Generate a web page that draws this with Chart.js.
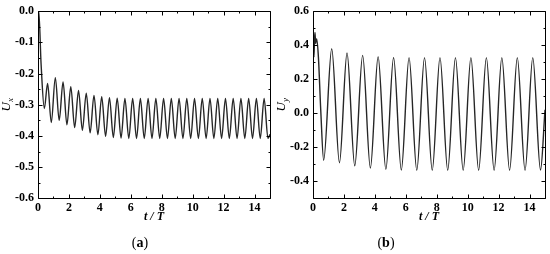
<!DOCTYPE html>
<html>
<head>
<meta charset="utf-8">
<script src="https://cdn.jsdelivr.net/npm/chart.js@4.4.1/dist/chart.umd.min.js"></script>
<style>
  html, body { margin: 0; padding: 0; background: #fff; }
  #wrap { position: relative; width: 550px; height: 254px; }
  .box { position: absolute; top: 0; width: 275px; height: 254px; }
</style>
</head>
<body>
<div id="wrap">
  <div class="box" style="left:0"><canvas id="chartA"></canvas></div>
  <div class="box" style="left:275px"><canvas id="chartB"></canvas></div>
</div>
<script>
// (a) U_x against t/T, extrema
const uxTime = [0, 0.05, 0.2, 0.41, 0.62, 0.86, 1.12, 1.37, 1.62, 1.87, 2.12, 2.37, 2.62, 2.87, 3.12, 3.37,
  3.62, 3.87, 4.12, 4.37, 4.62, 4.87, 5.12, 5.37, 5.62, 5.87, 6.12, 6.37, 6.62, 6.87, 7.12, 7.37, 7.62, 7.87,
  8.12, 8.37, 8.62, 8.87, 9.12, 9.37, 9.62, 9.87, 10.12, 10.37, 10.62, 10.87, 11.12, 11.37, 11.62, 11.87,
  12.12, 12.37, 12.62, 12.87, 13.12, 13.37, 13.62, 13.87, 14.12, 14.37, 14.62, 14.87, 15];
const uxValue = [-0.002, 0.0, -0.17, -0.312, -0.232, -0.357, -0.213, -0.35, -0.227, -0.364, -0.242, -0.373,
  -0.254, -0.382, -0.263, -0.39, -0.27, -0.396, -0.274, -0.401, -0.277, -0.405, -0.279, -0.407, -0.28, -0.408,
  -0.28, -0.408, -0.28, -0.408, -0.28, -0.408, -0.28, -0.408, -0.28, -0.408, -0.28, -0.408, -0.28, -0.408,
  -0.28, -0.408, -0.28, -0.408, -0.28, -0.408, -0.28, -0.408, -0.28, -0.408, -0.28, -0.408, -0.28, -0.408,
  -0.28, -0.408, -0.28, -0.408, -0.28, -0.408, -0.28, -0.408, -0.395];

// (b) U_y against t/T
const uyTime = [0, 0.03, 0.06, 0.1, 0.13, 0.17, 0.2, 0.24, 0.35, 0.5, 0.69, 1.21, 1.71, 2.2, 2.7, 3.21, 3.71,
  4.21, 4.71, 5.21, 5.71, 6.21, 6.71, 7.21, 7.71, 8.21, 8.71, 9.21, 9.71, 10.21, 10.71, 11.21, 11.71, 12.21,
  12.71, 13.21, 13.71, 14.21, 14.71, 15];
const uyValue = [0.30, 0.36, 0.33, 0.44, 0.475, 0.41, 0.43, 0.437, 0.33, 0.02, -0.276, 0.379, -0.291, 0.354,
  -0.309, 0.34, -0.322, 0.332, -0.33, 0.328, -0.334, 0.327, -0.335, 0.327, -0.335, 0.327, -0.335, 0.327,
  -0.335, 0.327, -0.335, 0.327, -0.335, 0.327, -0.335, 0.327, -0.335, 0.327, -0.334, 0.02];

const xTicks = [0, 2, 4, 6, 8, 10, 12, 14];
const xMinor = [1, 3, 5, 7, 9, 11, 13, 15];
const yTicksA = [-0.6, -0.5, -0.4, -0.3, -0.2, -0.1, 0.0];
const yMinorA = [-0.55, -0.45, -0.35, -0.25, -0.15, -0.05];
const yTicksB = [-0.4, -0.2, 0.0, 0.2, 0.4, 0.6];
const yMinorB = [-0.5, -0.3, -0.1, 0.1, 0.3, 0.5];

const FONT = '"Liberation Serif", "Times New Roman", serif';

// frame, inward ticks on all four sides, titles and caption
const framePlugin = {
  id: 'frame',
  afterDraw(chart, args, o) {
    const { ctx, chartArea: a, scales: { x, y } } = chart;
    const L = Math.round(a.left) + 0.5, R = Math.round(a.right) + 0.5;
    const T = Math.round(a.top) + 0.5, B = Math.round(a.bottom) + 0.5;
    ctx.save();
    ctx.strokeStyle = '#000';
    ctx.lineWidth = 1;
    ctx.beginPath();
    ctx.rect(L, T, R - L, B - T);
    const vt = (v, len) => {
      const p = Math.round(x.getPixelForValue(v)) + 0.5;
      ctx.moveTo(p, B); ctx.lineTo(p, B - len);
      ctx.moveTo(p, T); ctx.lineTo(p, T + len);
    };
    const ht = (v, len) => {
      const p = Math.round(y.getPixelForValue(v)) + 0.5;
      ctx.moveTo(L, p); ctx.lineTo(L + len, p);
      ctx.moveTo(R, p); ctx.lineTo(R - len, p);
    };
    xTicks.forEach(v => vt(v, 4));
    xMinor.forEach(v => vt(v, 2));
    o.yMajor.forEach(v => ht(v, 4));
    o.yMinor.forEach(v => ht(v, 2));
    ctx.stroke();

    ctx.fillStyle = '#000';
    // x title
    ctx.font = 'italic bold 12px ' + FONT;
    ctx.textAlign = 'center';
    ctx.textBaseline = 'middle';
    ctx.fillText('t / T', (a.left + a.right) / 2, 217);

    // y title with subscript
    ctx.save();
    ctx.translate(10, (a.top + a.bottom) / 2);
    ctx.rotate(-Math.PI / 2);
    ctx.textBaseline = 'alphabetic';
    ctx.textAlign = 'left';
    ctx.font = 'italic 13px ' + FONT;
    const wU = ctx.measureText('U').width;
    ctx.font = 'italic 9px ' + FONT;
    const wS = ctx.measureText(o.sub).width;
    const x0 = -(wU + wS) / 2;
    ctx.font = 'italic 13px ' + FONT;
    ctx.fillText('U', x0, 0);
    ctx.font = 'italic 9px ' + FONT;
    ctx.fillText(o.sub, x0 + wU, 3);
    ctx.restore();

    // caption
    ctx.textAlign = 'left';
    ctx.textBaseline = 'middle';
    ctx.font = '14px ' + FONT;
    const wo = ctx.measureText('(').width, wc = ctx.measureText(')').width;
    ctx.font = 'bold 14px ' + FONT;
    const wl = ctx.measureText(o.cap).width;
    let cx = o.capX - (wo + wl + wc) / 2;
    ctx.font = '14px ' + FONT;
    ctx.fillText('(', cx, 243);
    ctx.font = 'bold 14px ' + FONT;
    ctx.fillText(o.cap, cx + wo, 243);
    ctx.font = '14px ' + FONT;
    ctx.fillText(')', cx + wo + wl, 243);
    ctx.restore();
  }
};

function makeChart(id, times, values, yMin, yMax, yMajor, yMinor, sub, cap, capX) {
  const ctx = document.getElementById(id).getContext('2d');
  return new Chart(ctx, {
    type: 'line',
    data: {
      datasets: [{
        data: times.map((t, i) => ({ x: t, y: values[i] })),
        borderColor: '#262626',
        borderWidth: 1.4,
        pointRadius: 0,
        cubicInterpolationMode: 'monotone',
        fill: false
      }]
    },
    options: {
      responsive: false,
      animation: false,
      layout: { padding: { left: 0, right: 5, top: 11, bottom: 0 } },
      plugins: {
        legend: { display: false },
        tooltip: { enabled: false },
        frame: { yMajor, yMinor, sub, cap, capX }
      },
      scales: {
        x: {
          type: 'linear',
          min: 0, max: 15,
          grid: { display: false, drawTicks: false },
          border: { display: false },
          afterBuildTicks: s => { s.ticks = xTicks.map(v => ({ value: v })); },
          afterFit: s => { s.height = 55.7; },
          ticks: {
            padding: 2,
            color: '#000',
            font: { family: FONT, size: 12, weight: 'bold' },
            callback: v => String(v)
          }
        },
        y: {
          type: 'linear',
          min: yMin, max: yMax,
          grid: { display: false, drawTicks: false },
          border: { display: false },
          afterBuildTicks: s => { s.ticks = yMajor.map(v => ({ value: v })); },
          afterFit: s => { s.width = 38; },
          ticks: {
            padding: 4,
            color: '#000',
            font: { family: FONT, size: 12, weight: 'bold' },
            callback: v => v.toFixed(1)
          }
        }
      }
    },
    plugins: [framePlugin]
  });
}

const boxW = 275, boxH = 254;
['chartA', 'chartB'].forEach(id => {
  const c = document.getElementById(id);
  c.width = boxW; c.height = boxH;
  c.style.width = boxW + 'px'; c.style.height = boxH + 'px';
});

makeChart('chartA', uxTime, uxValue, -0.6, 0, yTicksA, yMinorA, 'x', 'a', 140);
makeChart('chartB', uyTime, uyValue, -0.5, 0.6, yTicksB, yMinorB, 'y', 'b', 111);
</script>
</body>
</html>
